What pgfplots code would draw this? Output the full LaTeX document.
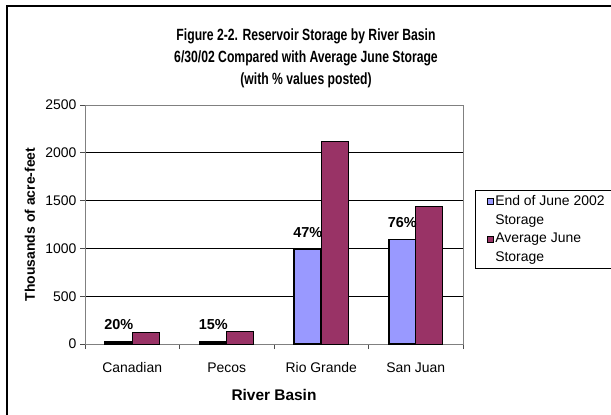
\documentclass[border=0pt]{standalone}
\usepackage{pgfplots}
\pgfplotsset{compat=1.18}
\usepackage{fontspec}
\setmainfont{Liberation Sans}
\newfontfamily\titlefont[FakeStretch=0.75]{Liberation Sans}
\definecolor{bblue}{HTML}{9999FF}
\definecolor{mroon}{HTML}{993366}
\begin{document}
\begin{tikzpicture}[x=1bp,y=1bp]
\useasboundingbox (0,0) rectangle (611,414);
\fill[white] (0,0) rectangle (611,414);
\draw[black, line width=1.3bp] (7,-20) rectangle (640,408);
\node[font=\titlefont\fontsize{16.3}{22}\selectfont\bfseries, align=center] at (306,356) {Figure 2-2. Reservoir Storage by River Basin\\6/30/02 Compared with Average June Storage\\(with \% values posted)};
\begin{axis}[
  at={(85bp,70bp)}, anchor=south west,
  scale only axis, width=378bp, height=239bp,
  ybar=0pt, bar width=27bp,
  xmin=-0.5, xmax=3.5, ymin=0, ymax=2500,
  ytick={0,500,...,2500},
  xtick={0,1,2,3},
  xticklabels={Canadian,Pecos,Rio Grande,San Juan},
  minor xtick={-0.5,0.5,1.5,2.5,3.5},
  major x tick style={draw=none},
  minor x tick style={black!70, line width=0.8bp},
  y tick style={black!70, line width=0.8bp},
  tick align=outside, major tick length=5bp, minor tick length=5bp,
  xtick pos=bottom, ytick pos=left,
  ymajorgrids, grid style={black, line width=0.7bp},
  axis line style={black!50, line width=0.8bp},
  /pgf/number format/1000 sep={},
  /pgf/number format/assume math mode=true,
  tick label style={font=\fontsize{14}{16}\selectfont},
  xticklabel style={yshift=-10bp},
  xlabel={River Basin}, ylabel={Thousands of acre-feet},
  xlabel style={font=\fontsize{15.5}{18}\selectfont\bfseries, at={(axis description cs:0.5,-0.2134)}, anchor=center},
  ylabel style={font=\fontsize{14}{16}\selectfont\bfseries, at={(axis description cs:-0.1455,0.5)}, anchor=center},
  legend style={at={(axis description cs:1.032,0.644)}, anchor=north west, draw=black, line width=0.8bp,
    font=\fontsize{14}{18.7}\selectfont, inner xsep=11bp, inner ysep=3bp, row sep=3.7bp,
    cells={align=left, anchor=west, inner xsep=2bp, inner ysep=1bp}},
  legend image code/.code={\draw[#1, line width=0.8bp] (0bp,6.35bp) rectangle (6bp,12.35bp);},
  nodes near coords style={font=\fontsize{14.5}{16}\selectfont\bfseries, yshift=8bp},
]
\addplot[fill=bblue, draw=black, line width=1.6bp, nodes near coords, point meta=explicit symbolic] coordinates {
  (0,24) [20\%] (1,19) [15\%] (2,990) [47\%] (3,1095) [76\%]};
\addplot[fill=mroon, draw=black, line width=0.8bp] coordinates {
  (0,118) (1,128) (2,2118) (3,1436)};
\legend{End of June 2002\\Storage, Average June\\Storage}
\end{axis}
\end{tikzpicture}
\end{document}
